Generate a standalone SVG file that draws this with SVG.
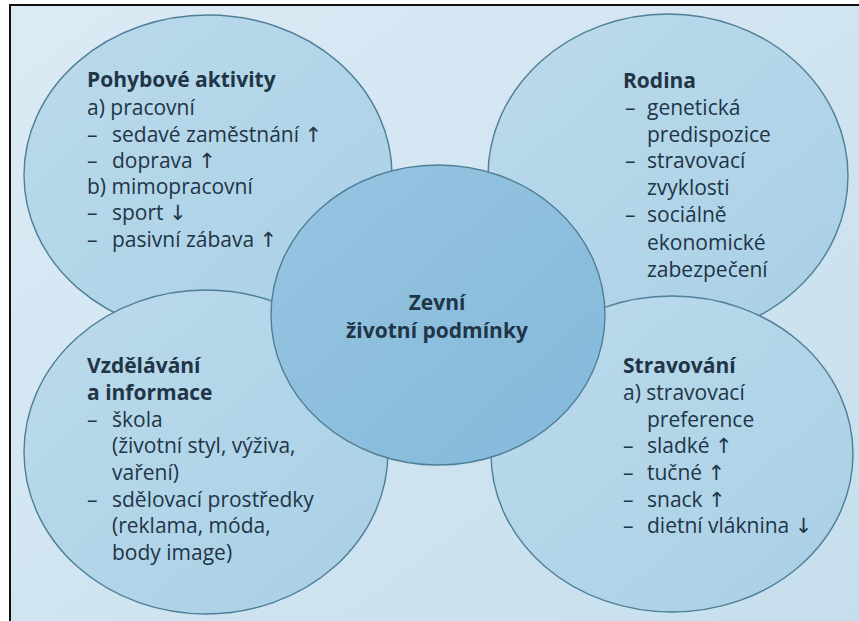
<svg xmlns="http://www.w3.org/2000/svg" width="859" height="621" viewBox="0 0 859 621">
<defs>
<linearGradient id="bg" x1="0" y1="0" x2="1" y2="1">
<stop offset="0" stop-color="#dbebf5"/>
<stop offset="1" stop-color="#c6deec"/>
</linearGradient>
<linearGradient id="outer" x1="0" y1="0" x2="1" y2="1">
<stop offset="0" stop-color="#bcdbec"/>
<stop offset="1" stop-color="#a9cfe5"/>
</linearGradient>
<linearGradient id="inner" x1="0" y1="0" x2="1" y2="1">
<stop offset="0" stop-color="#96c5e1"/>
<stop offset="1" stop-color="#84b9da"/>
</linearGradient>
<style>
.o{fill:url(#outer);stroke:#4f7f98;stroke-width:1.4}
.c{fill:url(#inner);stroke:#4f7f98;stroke-width:1.4}
text{font-family:"Open Sans","Noto Sans","DejaVu Sans",sans-serif;font-size:21px;fill:#213547}
.b{font-weight:bold}
.m{text-anchor:middle}
</style>
</defs>
<rect x="0" y="0" width="859" height="621" fill="#ffffff"/>
<rect x="10" y="5" width="860" height="630" fill="url(#bg)"/>
<path d="M10,621 V5 H859" fill="none" stroke="#111" stroke-width="2"/>
<g id="connectors"/>
<g id="pohybove">
<ellipse class="o" cx="208" cy="175" rx="184" ry="160"/>
<text class="b" x="87" y="87">Pohybové aktivity</text>
<text x="87" y="115">a) pracovní</text>
<text y="142"><tspan x="87">–</tspan><tspan x="112">sedavé zaměstnání ↑</tspan></text>
<text y="168"><tspan x="87">–</tspan><tspan x="112">doprava ↑</tspan></text>
<text x="87" y="194">b) mimopracovní</text>
<text y="220"><tspan x="87">–</tspan><tspan x="112">sport ↓</tspan></text>
<text y="247"><tspan x="87">–</tspan><tspan x="112">pasivní zábava ↑</tspan></text>
</g>
<g id="rodina">
<ellipse class="o" cx="668" cy="176" rx="180" ry="162"/>
<text class="b" x="623" y="88">Rodina</text>
<text y="115"><tspan x="625">–</tspan><tspan x="647">genetická</tspan></text>
<text x="647" y="142">predispozice</text>
<text y="168"><tspan x="625">–</tspan><tspan x="647">stravovací</tspan></text>
<text x="647" y="195">zvyklosti</text>
<text y="222"><tspan x="625">–</tspan><tspan x="647">sociálně</tspan></text>
<text x="647" y="250">ekonomické</text>
<text x="647" y="277">zabezpečení</text>
</g>
<g id="vzdelavani">
<ellipse class="o" cx="206" cy="452" rx="182" ry="162"/>
<text class="b" x="87" y="373">Vzdělávání</text>
<text class="b" x="87" y="400">a informace</text>
<text y="427"><tspan x="87">–</tspan><tspan x="112">škola</tspan></text>
<text x="112" y="453">(životní styl, výživa,</text>
<text x="112" y="480">vaření)</text>
<text y="507"><tspan x="87">–</tspan><tspan x="112">sdělovací prostředky</tspan></text>
<text x="112" y="533">(reklama, móda,</text>
<text x="112" y="560">body image)</text>
</g>
<g id="stravovani">
<ellipse class="o" cx="672" cy="454" rx="181" ry="158"/>
<text class="b" x="623" y="373">Stravování</text>
<text x="623" y="400">a) stravovací</text>
<text x="647" y="427">preference</text>
<text y="453"><tspan x="623">–</tspan><tspan x="647">sladké ↑</tspan></text>
<text y="480"><tspan x="623">–</tspan><tspan x="647">tučné ↑</tspan></text>
<text y="507"><tspan x="623">–</tspan><tspan x="647">snack ↑</tspan></text>
<text y="533"><tspan x="623">–</tspan><tspan x="647">dietní vláknina ↓</tspan></text>
</g>
<g id="zevni">
<ellipse class="c" cx="438" cy="315" rx="167" ry="150"/>
<text class="b m" x="437" y="310">Zevní</text>
<text class="b m" x="437" y="338">životní podmínky</text>
</g>
</svg>
